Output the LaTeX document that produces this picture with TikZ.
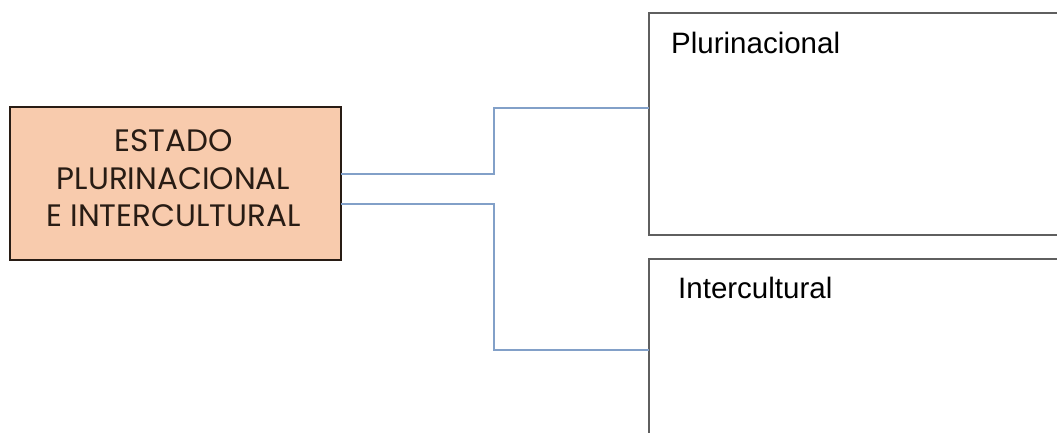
\documentclass[tikz,border=0pt]{standalone}
\usepackage{fontspec}
\setmainfont{Liberation Sans}
\newfontfamily\geofont{Poppins}
\definecolor{peach}{RGB}{248,203,173}
\definecolor{linkblue}{RGB}{130,160,200}
\definecolor{boxgray}{RGB}{95,95,95}
\definecolor{txtbrown}{RGB}{40,28,20}
\begin{document}
\begin{tikzpicture}[x=1pt,y=-1pt,
  mainbox/.style={draw=txtbrown,line width=1.5pt,fill=peach},
  sidebox/.style={draw=boxgray,line width=1.6pt},
  link/.style={draw=linkblue,line width=1.2pt},
  lbl/.style={anchor=base west,inner sep=0pt,font=\fontsize{29.5}{34}\selectfont}]
\useasboundingbox (0,0) rectangle (1057,432);
\begin{scope}
\clip (0,0) rectangle (1057,432);
% left box
\draw[mainbox] (10,107) rectangle (341,260);
\node[align=center,inner sep=0pt,text=txtbrown,font=\geofont\fontsize{31}{37.5}\selectfont] (main) at (173.5,178.5) {ESTADO\\PLURINACIONAL\\E INTERCULTURAL};
\coordinate (mr1) at (341,174);
\coordinate (mr2) at (341,204);
% right boxes
\draw[sidebox] (1080,13) -- (649,13) -- (649,235) -- (1080,235);
\draw[sidebox] (1080,259) -- (649,259) -- (649,450);
\coordinate (p) at (649,108);
\coordinate (i) at (649,350);
\node[lbl] (plu) at (671,53) {Plurinacional};
\node[lbl] (int) at (678,298) {Intercultural};
% connectors
\draw[link] (mr1) -- (494,174) -- (494,108) -- (p);
\draw[link] (mr2) -- (494,204) -- (494,350) -- (i);
\end{scope}
\end{tikzpicture}
\end{document}
